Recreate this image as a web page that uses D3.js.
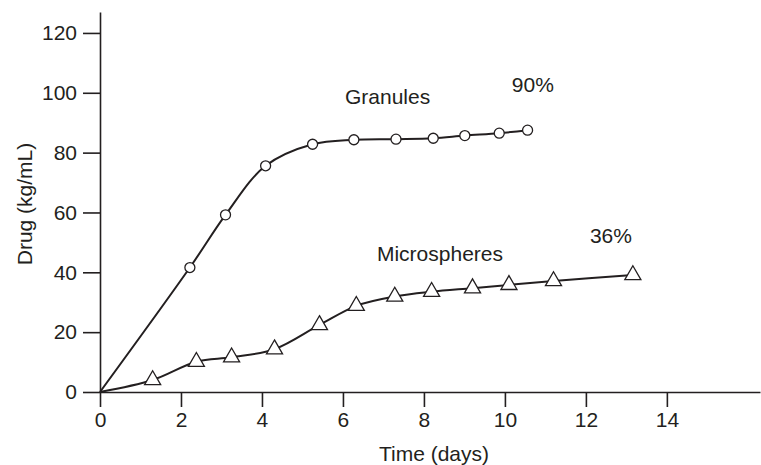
<!DOCTYPE html>
<html><head><meta charset="utf-8">
<script src="https://cdn.jsdelivr.net/npm/d3@7"></script>
<style>body{margin:0;background:#fff}svg{display:block}text{font-family:"Liberation Sans",Arial,Helvetica,sans-serif;fill:#231f20}</style>
</head><body>
<svg id="c" width="761" height="465"></svg>
<script>
const xTicks = [0, 2, 4, 6, 8, 10, 12, 14];
const yTicks = [0, 20, 40, 60, 80, 100, 120];
const granulesX = [0, 2.22, 3.10, 4.09, 5.25, 6.27, 7.31, 8.23, 9.01, 9.86, 10.56];
const granulesY = [0, 41.6, 59.2, 75.6, 82.8, 84.3, 84.5, 84.8, 85.7, 86.5, 87.5];
const microX = [0, 1.30, 2.38, 3.25, 4.31, 5.42, 6.33, 7.28, 8.19, 9.20, 10.10, 11.20, 13.16];
const microY = [0, 4.0, 10.1, 11.6, 14.3, 22.4, 28.8, 31.9, 33.5, 34.7, 35.8, 37.1, 39.1];
const labels = [
  {text: "Granules", x: 6.05, y: 96.3},
  {text: "90%", x: 10.17, y: 100.3},
  {text: "Microspheres", x: 6.84, y: 43.8},
  {text: "36%", x: 12.1, y: 49.8}
];
const xTitle = "Time (days)";
const yTitle = "Drug (kg/mL)";

const svg = d3.select("#c");
const x = d3.scaleLinear().domain([0, 16.3]).range([100, 760]);
const y = d3.scaleLinear().domain([0, 127]).range([392, 12]);
const ink = "#231f20";
const fs = 21;

const gx = svg.append("g").attr("transform", `translate(0,${y(0)})`)
  .call(d3.axisBottom(x).tickValues(xTicks).tickSize(15).tickSizeOuter(0).tickPadding(5).tickFormat(d3.format("d")));
const gy = svg.append("g").attr("transform", `translate(${x(0)},0)`)
  .call(d3.axisLeft(y).tickValues(yTicks).tickSize(17).tickSizeOuter(0).tickPadding(6).tickFormat(d3.format("d")));
[gx, gy].forEach(g => {
  g.selectAll("path.domain").attr("stroke", ink).attr("stroke-width", 1.6);
  g.selectAll(".tick line").attr("stroke", ink).attr("stroke-width", 1.6);
  g.selectAll(".tick text").attr("font-size", fs).style("font-family", '"Liberation Sans",Arial,sans-serif').attr("fill", ink);
});

svg.append("text").attr("x", 434).attr("y", 461).attr("text-anchor", "middle").attr("font-size", fs).text(xTitle);
svg.append("text").attr("transform", "translate(32,204) rotate(-90)").attr("text-anchor", "middle").attr("font-size", fs).text(yTitle);

const line = d3.line().x(d => x(d[0])).y(d => y(d[1])).curve(d3.curveCatmullRom.alpha(0.5));
const gran = granulesX.map((v, i) => [v, granulesY[i]]);
const micro = microX.map((v, i) => [v, microY[i]]);

svg.append("path").attr("d", line(gran)).attr("fill", "none").attr("stroke", ink).attr("stroke-width", 2);
svg.append("path").attr("d", line(micro)).attr("fill", "none").attr("stroke", ink).attr("stroke-width", 2);

svg.selectAll("circle.g").data(gran.slice(1)).join("circle")
  .attr("cx", d => x(d[0])).attr("cy", d => y(d[1])).attr("r", 5)
  .attr("fill", "#fff").attr("stroke", ink).attr("stroke-width", 1.3);

const tri = d3.symbol().type(d3.symbolTriangle).size(112);
svg.selectAll("path.t").data(micro.slice(1)).join("path")
  .attr("transform", d => `translate(${x(d[0])},${y(d[1])})`).attr("d", tri)
  .attr("fill", "#fff").attr("stroke", ink).attr("stroke-width", 1.3);

svg.selectAll("text.lab").data(labels).join("text")
  .attr("x", d => x(d.x)).attr("y", d => y(d.y)).attr("text-anchor", "start").attr("font-size", fs)
  .text(d => d.text);
</script>
</body></html>
